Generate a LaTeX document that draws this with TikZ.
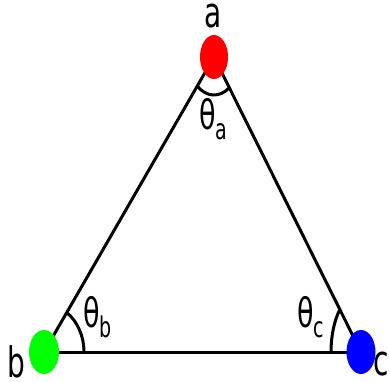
\documentclass[tikz,border=0pt]{standalone}
\usepackage{fontspec}
\setmainfont{DejaVu Sans}
\usetikzlibrary{shapes.geometric,backgrounds}
\newcommand{\vlbl}[1]{\scalebox{1}[1.5]{#1}}
\newcommand{\thsub}[1]{θ\raisebox{-7.3pt}{\fontsize{19}{19}\selectfont #1}}
\tikzset{
  edgeline/.style={line width=3pt},
  anglearc/.style={line width=3pt},
  vertexdot/.style={ellipse, draw=none, inner sep=0pt, outer sep=0pt, minimum width=28pt, minimum height=44pt},
  vlabel/.style={inner sep=0pt, outer sep=0pt, anchor=base west, font=\fontsize{28}{30}\selectfont},
  thlabel/.style={inner sep=0pt, outer sep=0pt, anchor=base west, font=\fontsize{27}{29}\selectfont},
}
\begin{document}
\begin{tikzpicture}[x=1pt,y=1pt]
\useasboundingbox (0,0) rectangle (390,381);
\node[vertexdot, fill={rgb,255:red,255;green,0;blue,0}] (va) at (214,324) {};
\node[vertexdot, fill={rgb,255:red,0;green,255;blue,0}, minimum width=30pt] (vb) at (44,29) {};
\node[vertexdot, fill={rgb,255:red,0;green,0;blue,255}, minimum width=29pt] (vc) at (361,29) {};
\begin{scope}[on background layer]
\draw[edgeline] (va.center) -- (vb.center);
\draw[edgeline] (vb.center) -- (vc.center);
\draw[edgeline] (vc.center) -- (va.center);
\draw[anglearc] ([shift={(229.9:26pt and 38pt)}]va.center) arc[start angle=229.9, end angle=306, x radius=26pt, y radius=38pt];
\draw[anglearc] ([shift={(0:40pt and 48pt)}]vb.center) arc[start angle=0, end angle=55.3, x radius=40pt, y radius=48pt];
\draw[anglearc] ([shift={(180:30pt and 60pt)}]vc.center) arc[start angle=180, end angle=135, x radius=30pt, y radius=60pt];
\end{scope}
\node[vlabel] (la) at (204.8,353) {\vlbl{a}};
\node[vlabel] (lb) at (7.8,3.5) {\vlbl{b}};
\node[vlabel] (lc) at (373.5,6) {\vlbl{c}};
\node[thlabel] (ta) at (199,252) {\vlbl{\thsub{a}}};
\node[thlabel] (tb) at (83,54) {\vlbl{\thsub{b}}};
\node[thlabel] (tc) at (297.4,54) {\vlbl{\thsub{c}}};
\end{tikzpicture}
\end{document}
